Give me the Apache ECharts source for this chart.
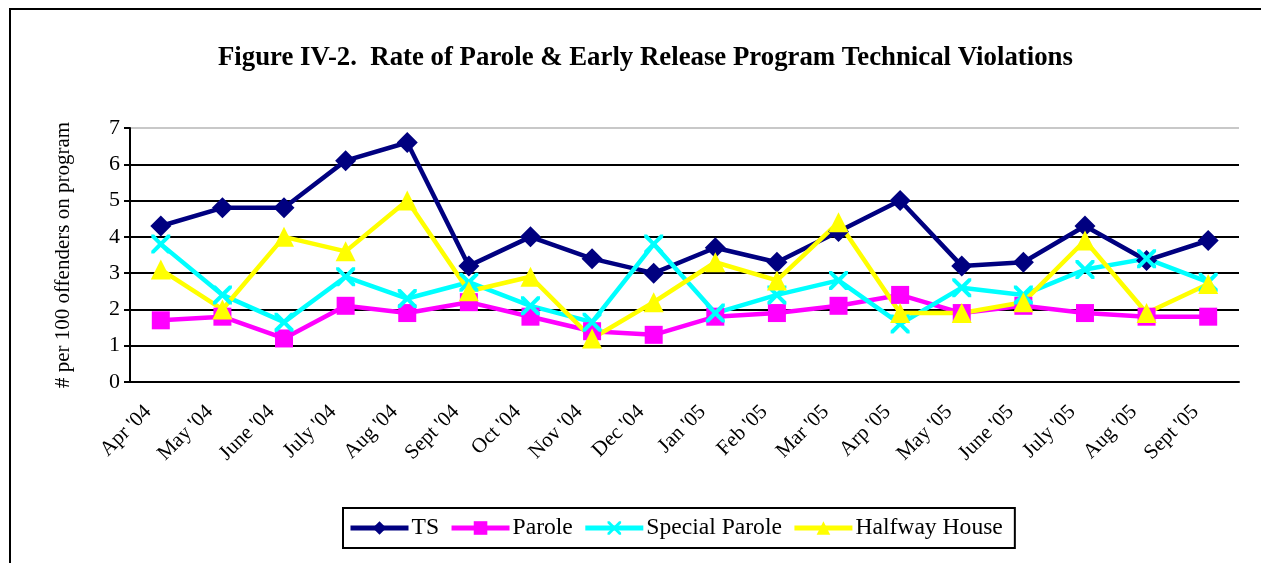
<!DOCTYPE html>
<html>
<head>
<meta charset="utf-8">
<script src="https://cdn.jsdelivr.net/npm/echarts@6/dist/echarts.min.js"></script>
<style>
  html, body { margin: 0; padding: 0; background: #fff; }
  #chart { width: 1261px; height: 563px; }
</style>
</head>
<body>
<div id="chart"></div>
<script>
const months = ["Apr '04", "May '04", "June '04", "July '04", "Aug '04", "Sept '04", "Oct '04", "Nov '04", "Dec '04",
  "Jan '05", "Feb '05", "Mar '05", "Arp '05", "May '05", "June '05", "July '05", "Aug '05", "Sept '05"]
const ts = [4.3, 4.8, 4.8, 6.1, 6.6, 3.2, 4.0, 3.4, 3.0, 3.7, 3.3, 4.15, 5.0, 3.2, 3.3, 4.3, 3.35, 3.9]
const parole = [1.7, 1.8, 1.2, 2.1, 1.9, 2.2, 1.8, 1.4, 1.3, 1.8, 1.9, 2.1, 2.4, 1.9, 2.1, 1.9, 1.8, 1.8]
const specialParole = [3.8, 2.4, 1.65, 2.9, 2.3, 2.75, 2.1, 1.65, 3.8, 1.9, 2.4, 2.8, 1.6, 2.6, 2.4, 3.1, 3.4, 2.75]
const halfway = [3.1, 2.0, 4.0, 3.6, 5.0, 2.5, 2.9, 1.2, 2.2, 3.3, 2.8, 4.4, 1.9, 1.9, 2.2, 3.9, 1.9, 2.7]

const font = 'Liberation Serif'
const crossPath = 'path://M0,0 L3,0 L10,7 L17,0 L20,0 L20,3 L13,10 L20,17 L20,20 L17,20 L10,13 L3,20 L0,20 L0,17 L7,10 L0,3 Z'

function line(name, data, color, symbol, size) {
  return {
    name, type: 'line', data, symbol, symbolSize: size,
    lineStyle: { color, width: 4.5 },
    itemStyle: { color, borderWidth: 0 },
    emphasis: { disabled: true }, animation: false
  }
}

const chart = echarts.init(document.getElementById('chart'))
chart.setOption({
  animation: false,
  title: {
    text: 'Figure IV-2.  Rate of Parole & Early Release Program Technical Violations',
    left: 213, top: 40,
    textStyle: { fontFamily: font, fontSize: 26.8, fontWeight: 'bold', color: '#000' }
  },
  graphic: [{
    type: 'polyline', silent: true,
    shape: { points: [[10, 563], [10, 9], [1261, 9]] },
    style: { stroke: '#000', lineWidth: 2, fill: null }
  }],
  legend: {
    bottom: 15, left: 343,
    itemWidth: 58, itemHeight: 17, itemGap: 10,
    padding: [8, 12, 8, 5],
    borderColor: '#000', borderWidth: 2,
    lineStyle: { width: 5 },
    textStyle: { fontFamily: font, fontSize: 23.6, color: '#000', padding: [0, 0, 0, -2] }
  },
  grid: { left: 130, right: 22, top: 128, bottom: 181 },
  xAxis: {
    type: 'category', data: months,
    axisLine: { lineStyle: { color: '#000', width: 2 } },
    axisTick: { lineStyle: { color: '#000', width: 2 }, length: 7 },
    axisLabel: { rotate: 45, fontFamily: font, fontSize: 21, color: '#000', margin: 14, padding: [0, 18, 0, 0] }
  },
  yAxis: {
    type: 'value', min: 0, max: 7, interval: 1,
    name: '# per 100 offenders on program', nameLocation: 'middle', nameGap: 56,
    nameTextStyle: { fontFamily: font, fontSize: 21, color: '#000' },
    axisLine: { show: true, lineStyle: { color: '#000', width: 2 } },
    axisTick: { show: true, lineStyle: { color: '#000', width: 2 }, length: 6 },
    axisLabel: { fontFamily: font, fontSize: 22, color: '#000', margin: 10 },
    splitLine: { lineStyle: { color: ['#000', '#000', '#000', '#000', '#000', '#000', '#000', '#c8c8c8'], width: 2 } }
  },
  series: [
    line('TS', ts, '#000080', 'diamond', 21),
    line('Parole', parole, '#ff00ff', 'rect', 18),
    line('Special Parole', specialParole, '#00ffff', crossPath, 19),
    line('Halfway House', halfway, '#ffff00', 'triangle', 20)
  ]
})
</script>
</body>
</html>
